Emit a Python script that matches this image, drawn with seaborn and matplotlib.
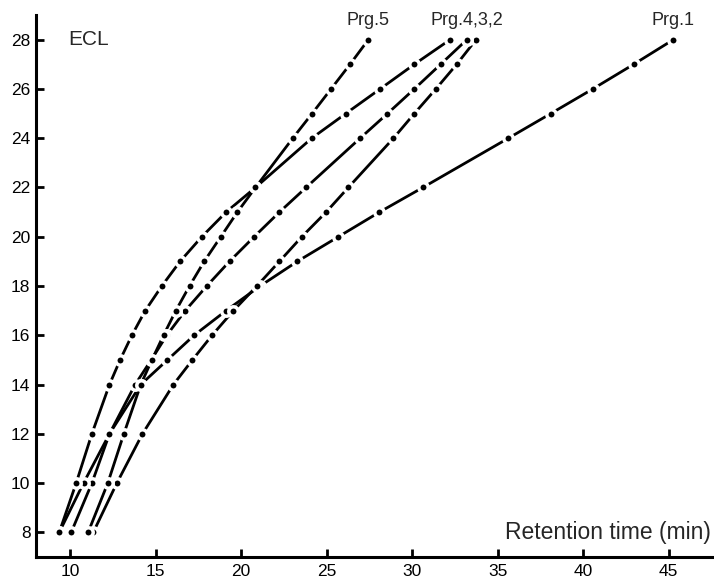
import matplotlib
matplotlib.use("Agg")
import matplotlib.pyplot as plt
import seaborn as sns
import pandas as pd

# ECL values measured for each temperature program
ecl = [8, 10, 12, 14, 15, 16, 17, 18, 19, 20, 21, 22, 24, 25, 26, 27, 28]

# retention times (min)
prg1 = [10.06, 11.27, 12.30, 14.13, 15.69, 17.25, 19.12, 21.11, 23.29, 25.69,
        28.09, 30.63, 35.63, 38.11, 40.57, 42.96, 45.28]
prg2 = [11.35, 12.73, 14.23, 16.04, 17.15, 18.30, 19.55, 20.92, 22.24, 23.55,
        24.97, 26.27, 28.91, 30.13, 31.39, 32.61, 33.74]
prg3 = [9.36, 10.78, 12.30, 13.80, 14.74, 15.65, 16.73, 17.99, 19.32, 20.76,
        22.24, 23.80, 26.96, 28.56, 30.13, 31.67, 33.20]
prg4 = [9.36, 10.35, 11.27, 12.30, 12.92, 13.61, 14.39, 15.36, 16.43, 17.70,
        19.12, 20.84, 24.13, 26.12, 28.13, 30.13, 32.22]
prg5 = [11.05, 12.20, 13.14, 14.13, 14.78, 15.46, 16.18, 16.98, 17.84, 18.81,
        19.78, 20.84, 23.02, 24.15, 25.26, 26.37, 27.44]

programs = ["Prg.1", "Prg.2", "Prg.3", "Prg.4", "Prg.5"]
series = [prg1, prg2, prg3, prg4, prg5]

x_ticks = [10, 15, 20, 25, 30, 35, 40, 45]
y_ticks = [8, 10, 12, 14, 16, 18, 20, 22, 24, 26, 28]

rows = []
for name, times in zip(programs, series):
    for t, e in zip(times, ecl):
        rows.append({"prog": name, "time": t, "ecl": e})
df = pd.DataFrame(rows)

sns.set_style("ticks")
plt.rcParams["font.family"] = ["Liberation Sans", "DejaVu Sans"]

fig = plt.figure(figsize=(7.14, 5.79), dpi=100)
ax = fig.add_axes([0.0504, 0.038, 0.9496, 0.936])

sns.lineplot(data=df, x="time", y="ecl", hue="prog", units="prog", estimator=None,
             palette=["black"] * 5, legend=False, lw=2.0, sort=False, ax=ax, zorder=2)
sns.scatterplot(data=df, x="time", y="ecl", color="black", s=46,
                edgecolor="white", linewidth=2.5, legend=False, ax=ax, zorder=3)

# curve labels above the last point
for name, times in [("Prg.5", prg5), ("Prg.4,3,2", prg3), ("Prg.1", prg1)]:
    ax.annotate(name, (times[-1], ecl[-1]), xytext=(0, 8), textcoords="offset points",
                ha="center", va="bottom", fontsize=13)

ax.text(0.077, 0.954, "ECL", transform=ax.transAxes, ha="center", va="center", fontsize=15)
ax.text(0.996, 0.046, "Retention time (min)", transform=ax.transAxes,
        ha="right", va="center", fontsize=16.5)

ax.set_xlim(8, 47.66)
ax.set_ylim(7, 29)
ax.set_xticks(x_ticks)
ax.set_yticks(y_ticks)
ax.set_xlabel("")
ax.set_ylabel("")
ax.tick_params(direction="in", length=6, width=2, labelsize=12.5, pad=5, colors="black")
ax.tick_params(axis="y", pad=4)
for side in ["top", "right"]:
    ax.spines[side].set_visible(False)
for side in ["left", "bottom"]:
    ax.spines[side].set_linewidth(2.2)
    ax.spines[side].set_color("black")

fig.savefig("out.png", dpi=100)
